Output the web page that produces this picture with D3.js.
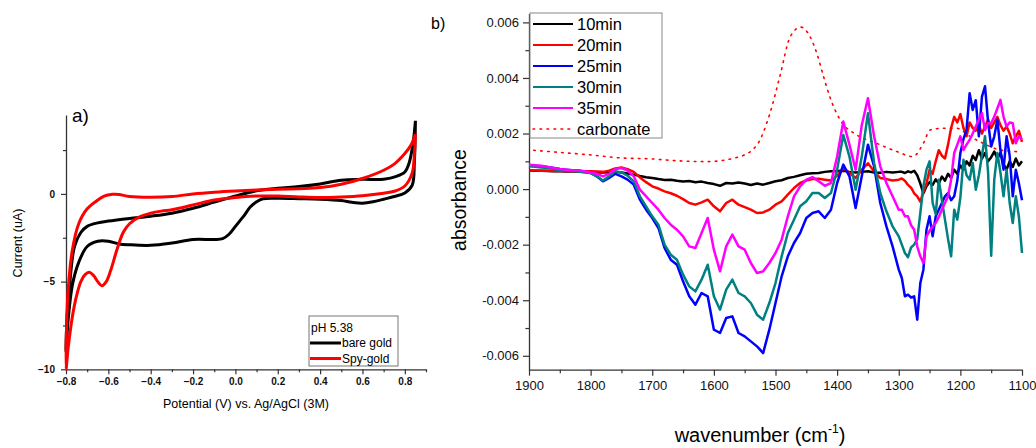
<!DOCTYPE html>
<html>
<head>
<meta charset="utf-8">
<script src="https://cdn.jsdelivr.net/npm/d3@7"></script>
<style>
  body { margin: 0; background: #fff; }
  svg { font-family: "Liberation Sans", Arial, sans-serif; }
</style>
</head>
<body>
<svg id="chart" width="1036" height="448"></svg>
<script>
// ---------- panel a) cyclic voltammograms (loop: cathodic sweep then anodic sweep) ----------
var cvNames = ["bare gold", "Spy-gold"];
var cvColors = ["#000000", "#ff0000"];

var bareGoldE = [0.85, 0.845, 0.835, 0.80, 0.75, 0.70, 0.65, 0.60, 0.55, 0.50, 0.40, 0.30, 0.20, 0.13, 0.10, 0.07, 0.04, 0.02, 0.00, -0.03, -0.06, -0.10, -0.20, -0.30, -0.40, -0.50, -0.55, -0.60, -0.65, -0.70, -0.74, -0.77, -0.79, -0.80,
  -0.795, -0.78, -0.76, -0.73, -0.70, -0.65, -0.60, -0.50, -0.40, -0.30, -0.20, -0.10, 0.00, 0.10, 0.20, 0.30, 0.40, 0.50, 0.60, 0.70, 0.76, 0.80, 0.82, 0.84, 0.85];
var bareGoldI = [4.17, 1.8, 0.5, 0.05, -0.15, -0.30, -0.45, -0.53, -0.48, -0.38, -0.30, -0.27, -0.25, -0.28, -0.45, -0.75, -1.25, -1.55, -1.85, -2.3, -2.55, -2.6, -2.6, -2.8, -2.93, -2.9, -2.85, -2.7, -2.7, -3.0, -3.9, -5.2, -7.2, -9.0,
  -7.0, -4.8, -3.0, -2.2, -1.85, -1.65, -1.55, -1.4, -1.27, -1.1, -0.82, -0.47, -0.12, 0.18, 0.32, 0.42, 0.57, 0.78, 0.83, 0.84, 1.0, 1.25, 1.75, 3.0, 4.17];

var spyGoldE = [0.85, 0.845, 0.835, 0.80, 0.75, 0.70, 0.60, 0.50, 0.40, 0.30, 0.20, 0.10, 0.00, -0.10, -0.20, -0.30, -0.35, -0.40, -0.45, -0.50, -0.53, -0.56, -0.59, -0.61, -0.63, -0.65, -0.67, -0.69, -0.71, -0.73, -0.75, -0.77, -0.79, -0.80,
  -0.797, -0.79, -0.77, -0.74, -0.70, -0.65, -0.62, -0.58, -0.55, -0.50, -0.40, -0.30, -0.20, -0.10, 0.00, 0.10, 0.20, 0.30, 0.40, 0.50, 0.60, 0.70, 0.75, 0.80, 0.83, 0.85];
var spyGoldI = [3.4, 2.2, 1.2, 0.45, 0.15, 0.04, -0.1, -0.17, -0.2, -0.17, -0.12, -0.12, -0.2, -0.35, -0.63, -0.9, -0.98, -1.1, -1.3, -1.7, -2.2, -3.2, -4.4, -5.0, -5.23, -5.0, -4.65, -4.47, -4.6, -5.0, -5.8, -7.0, -8.8, -10.0,
  -7.5, -5.5, -3.2, -1.7, -0.85, -0.35, -0.12, -0.02, -0.03, -0.15, -0.19, -0.15, 0.0, 0.1, 0.17, 0.22, 0.26, 0.3, 0.36, 0.55, 0.88, 1.35, 1.7, 2.3, 2.8, 3.4];

var cvXTicks = [-0.8, -0.6, -0.4, -0.2, 0.0, 0.2, 0.4, 0.6, 0.8];
var cvXMinor = [-0.7, -0.5, -0.3, -0.1, 0.1, 0.3, 0.5, 0.7, 0.9];
var cvYTicks = [-10, -5, 0];
var cvYMinor = [-7.5, -2.5, 2.5];

// ---------- panel b) IR difference spectra, absorbance x 1000 ----------
var irWavenumber = [
  1900, 1890, 1880, 1870, 1860, 1850, 1840, 1830, 1820, 1810,
  1800, 1790, 1780, 1770, 1760, 1750, 1740, 1730, 1720, 1710,
  1700, 1690, 1680, 1670, 1660, 1650, 1640, 1630, 1620, 1610,
  1600, 1590, 1580, 1570, 1560, 1550, 1540, 1530, 1520, 1510,
  1500, 1490, 1480, 1470, 1460, 1450, 1440, 1430, 1420, 1410,
  1400, 1390, 1380, 1370, 1360, 1350, 1340, 1330, 1320, 1310,
  1300, 1295, 1290, 1285, 1280, 1275, 1270, 1265, 1260, 1255,
  1250, 1245, 1240, 1235, 1230, 1225, 1220, 1215, 1210, 1205,
  1200, 1195, 1190, 1185, 1180, 1175, 1170, 1165, 1160, 1155,
  1150, 1145, 1140, 1135, 1130, 1125, 1120, 1115, 1110, 1105,
  1100];

var ir10min = [
  0.67, 0.66, 0.66, 0.65, 0.64, 0.64, 0.63, 0.63, 0.62, 0.62,
  0.61, 0.60, 0.60, 0.61, 0.62, 0.60, 0.56, 0.52, 0.47, 0.43,
  0.40, 0.36, 0.33, 0.34, 0.30, 0.27, 0.29, 0.25, 0.27, 0.22,
  0.18, 0.12, 0.22, 0.20, 0.24, 0.20, 0.15, 0.20, 0.16, 0.22,
  0.28, 0.32, 0.40, 0.44, 0.50, 0.55, 0.57, 0.58, 0.62, 0.64,
  0.65, 0.66, 0.62, 0.60, 0.62, 0.64, 0.60, 0.59, 0.62, 0.60,
  0.62, 0.62, 0.58, 0.64, 0.60, 0.66, 0.50, 0.20, -0.15, 0.10,
  0.25, 0.15, 0.35, 0.20, 0.45, 0.30, 0.55, 0.40, 0.70, 0.55,
  0.85, 0.70, 1.00, 0.85, 1.20, 1.05, 1.40, 1.10, 1.30, 1.00,
  1.15, 1.35, 1.10, 1.30, 0.90, 0.70, 1.00, 0.80, 1.10, 0.85,
  1.00];

var ir20min = [
  0.67, 0.67, 0.66, 0.66, 0.65, 0.65, 0.65, 0.64, 0.64, 0.64,
  0.64, 0.63, 0.62, 0.66, 0.74, 0.78, 0.72, 0.62, 0.42, 0.25,
  0.10, 0.02, -0.08, -0.15, -0.24, -0.36, -0.50, -0.56, -0.48, -0.38,
  -0.62, -0.80, -0.50, -0.38, -0.56, -0.65, -0.74, -0.86, -0.84, -0.74,
  -0.56, -0.44, -0.20, 0.04, 0.22, 0.31, 0.36, 0.37, 0.34, 0.31,
  0.48, 0.76, 0.58, 0.40, 0.70, 0.93, 0.64, 0.40, 0.36, 0.31,
  0.34, 0.38, 0.30, 0.15, 0.05, -0.15, -0.26, -0.45, -0.10, 0.20,
  0.70, 0.55, 1.00, 1.40, 1.20, 1.10, 1.60, 2.20, 2.60, 2.40,
  2.70, 2.20, 1.90, 2.40, 2.20, 2.10, 2.30, 2.00, 2.25, 2.50,
  2.20, 2.40, 2.60, 2.30, 2.10, 2.25, 2.00, 1.65, 1.90, 2.10,
  1.70];

var ir25min = [
  0.84, 0.83, 0.82, 0.80, 0.76, 0.72, 0.70, 0.68, 0.67, 0.63,
  0.58, 0.46, 0.28, 0.40, 0.55, 0.46, 0.34, 0.16, -0.38, -0.74,
  -1.04, -1.40, -2.12, -2.54, -2.72, -3.32, -3.86, -4.16, -3.74, -3.86,
  -5.06, -5.18, -4.64, -4.58, -5.18, -5.30, -5.48, -5.66, -5.90, -5.06,
  -4.10, -3.14, -2.42, -1.94, -1.58, -1.04, -0.86, -0.80, -1.04, -0.74,
  0.22, 0.88, 0.46, -0.68, 0.46, 1.60, 0.82, -0.50, -1.34, -2.06,
  -2.90, -3.20, -3.86, -3.80, -3.90, -3.86, -4.70, -3.38, -2.90, -1.46,
  -0.98, -1.70, -0.98, -0.74, -0.50, -0.26, -0.14, -0.40, -0.26, 0.30,
  1.30, 1.80, 2.13, 3.45, 2.85, 3.20, 1.90, 3.33, 3.70, 2.40,
  1.53, 1.90, 2.50, 1.40, 0.70, 1.90, 1.20, -0.26, 0.70, 0.20,
  -0.40];

var ir30min = [
  0.82, 0.80, 0.78, 0.76, 0.72, 0.67, 0.66, 0.65, 0.63, 0.60,
  0.58, 0.46, 0.31, 0.46, 0.64, 0.60, 0.48, 0.28, -0.26, -0.62,
  -0.98, -1.28, -2.00, -2.36, -2.54, -3.08, -3.50, -3.68, -3.26, -2.72,
  -3.86, -4.34, -3.62, -3.26, -3.74, -3.86, -4.10, -4.52, -4.70, -4.10,
  -3.38, -2.42, -1.58, -1.10, -0.62, -0.44, -0.14, -0.14, -0.32, -0.14,
  0.70, 1.95, 1.17, -0.02, 1.17, 2.73, 0.94, -0.14, -0.80, -1.34,
  -1.70, -2.00, -2.30, -2.45, -2.10, -2.00, -1.80, -0.86, 0.10, 0.70,
  1.00, -0.50, -0.90, 0.34, -0.40, -1.10, -1.80, -2.42, -0.74, -1.10,
  -0.30, 1.06, 0.50, 0.34, 0.94, -0.02, 0.50, 1.20, 1.90, 0.60,
  -2.40, 0.34, 1.30, 0.60, -0.26, 0.70, -0.50, -1.22, -0.26, -1.00,
  -2.30];

var ir35min = [
  0.88, 0.86, 0.84, 0.80, 0.76, 0.72, 0.70, 0.68, 0.67, 0.64,
  0.60, 0.55, 0.46, 0.55, 0.72, 0.76, 0.67, 0.46, -0.02, -0.26,
  -0.50, -0.74, -1.04, -1.28, -1.46, -1.70, -2.06, -2.12, -1.58, -1.04,
  -2.18, -2.96, -2.06, -1.64, -2.06, -2.18, -2.66, -3.02, -2.96, -2.66,
  -2.30, -1.82, -0.98, -0.26, 0.10, 0.34, 0.43, 0.28, 0.12, 0.22,
  1.17, 2.43, 1.60, 0.70, 2.30, 3.27, 1.90, 0.82, 0.22, -0.26,
  -0.74, -0.74, -0.98, -0.98, -1.30, -1.46, -2.06, -2.42, -2.66, -1.70,
  -1.50, -1.34, -1.22, -1.00, -0.74, -0.50, -0.26, 0.34, 1.30, 1.60,
  1.90, 1.41, 1.60, 1.77, 2.00, 2.25, 2.50, 2.73, 2.13, 2.37,
  2.37, 2.61, 2.90, 3.21, 2.61, 2.25, 2.40, 2.37, 1.65, 1.90,
  1.80];

var carbonateWn = [1900, 1850, 1800, 1750, 1704, 1660, 1612, 1558, 1530, 1509, 1493, 1476, 1459, 1444, 1433, 1422, 1412, 1395, 1368, 1336, 1303, 1277, 1260, 1249, 1228, 1206, 1184, 1163, 1136, 1109];
var carbonateAbs = [1.41, 1.32, 1.23, 1.12, 1.09, 1.02, 0.99, 1.17, 1.59, 2.73, 4.05, 5.49, 5.83, 5.49, 4.89, 4.05, 3.33, 2.49, 1.95, 1.65, 1.35, 1.17, 1.65, 2.13, 2.19, 2.19, 1.89, 1.65, 1.41, 1.35];

var irNames = ["10min", "20min", "25min", "30min", "35min", "carbonate"];
var irColors = ["#000000", "#ff0000", "#0000ff", "#008080", "#ff00ff", "#ff0000"];

var irXTicks = [1900, 1800, 1700, 1600, 1500, 1400, 1300, 1200, 1100];
var irXMinor = [1850, 1750, 1650, 1550, 1450, 1350, 1250, 1150];
var irYTicks = [-6, -4, -2, 0, 2, 4, 6];
var irYMinor = [-5, -3, -1, 1, 3, 5];

var svg = d3.select("#chart");
var axisColor = "#333";

// helper: major + minor ticks on one axis
function drawAxis(g, axisFn, scale, major, minor, fmt, size, fontSize, pad) {
  var main = axisFn(scale).tickValues(major).tickSize(size).tickSizeOuter(0)
    .tickPadding(pad).tickFormat(fmt);
  g.call(main);
  var mg = g.append("g").call(axisFn(scale).tickValues(minor).tickSize(size * 0.6).tickFormat(""));
  mg.select(".domain").remove();
  g.selectAll("line").attr("stroke", axisColor).attr("stroke-width", 1.2);
  g.selectAll(".domain").attr("stroke", axisColor).attr("stroke-width", 1.3);
  g.selectAll("text").attr("font-size", fontSize).attr("fill", "#111")
    .attr("font-family", "'Liberation Sans', Arial, sans-serif");
}

// ================= panel a =================
var cvX = d3.scaleLinear().domain([-0.8, 0.9]).range([66, 426]);
var cvY = d3.scaleLinear().domain([-10, 4.5]).range([369.3, 115]);

drawAxis(svg.append("g").attr("transform", "translate(0,369.3)"), d3.axisBottom, cvX,
  cvXTicks, cvXMinor, d3.format(".1f"), 5, 10, 4);
drawAxis(svg.append("g").attr("transform", "translate(66,0)"), d3.axisLeft, cvY,
  cvYTicks, cvYMinor, d3.format("d"), 5, 10, 6);
svg.selectAll("text").attr("font-weight", "bold");

var cvLine = d3.line()
  .x(function (d) { return cvX(d[0]); })
  .y(function (d) { return cvY(d[1]); })
  .curve(d3.curveCatmullRom.alpha(0.5));

var cvData = [d3.zip(bareGoldE, bareGoldI), d3.zip(spyGoldE, spyGoldI)];
cvData.forEach(function (pts, i) {
  svg.append("path").attr("d", cvLine(pts)).attr("fill", "none")
    .attr("stroke", cvColors[i]).attr("stroke-width", 3).attr("stroke-linejoin", "round");
});

// legend a
var legA = svg.append("g");
legA.append("rect").attr("x", 309).attr("y", 316).attr("width", 89).attr("height", 50)
  .attr("fill", "#fff").attr("stroke", "#777").attr("stroke-width", 1);
legA.append("text").attr("x", 311).attr("y", 332).attr("font-size", 12).text("pH 5.38");
cvNames.forEach(function (n, i) {
  var yy = 343 + i * 15.5;
  legA.append("line").attr("x1", 310).attr("x2", 341).attr("y1", yy).attr("y2", yy)
    .attr("stroke", cvColors[i]).attr("stroke-width", 3);
  legA.append("text").attr("x", 342).attr("y", yy).attr("dy", "0.35em")
    .attr("font-size", 12).text(n);
});

svg.append("text").attr("x", 72).attr("y", 122).attr("font-size", 19).text("a)");
svg.append("text").attr("transform", "translate(22,243) rotate(-90)")
  .attr("text-anchor", "middle").attr("font-size", 12.5).text("Current (uA)");
svg.append("text").attr("x", 246).attr("y", 408).attr("text-anchor", "middle")
  .attr("font-size", 12.5).text("Potential (V) vs. Ag/AgCl (3M)");

// ================= panel b =================
var irX = d3.scaleLinear().domain([1900, 1100]).range([529, 1022]);
var irY = d3.scaleLinear().domain([-6.5, 6.32]).range([369.7, 13.5]);

drawAxis(svg.append("g").attr("transform", "translate(0,369.7)"), d3.axisBottom, irX,
  irXTicks, irXMinor, d3.format("d"), 6, 13, 5);
drawAxis(svg.append("g").attr("transform", "translate(529,0)"), d3.axisLeft, irY,
  irYTicks, irYMinor, function (d) { return (d / 1000).toFixed(3); }, 6, 13, 4);

var irLine = d3.line()
  .x(function (d) { return irX(d[0]); })
  .y(function (d) { return irY(d[1]); });

var carbLine = d3.line()
  .x(function (d) { return irX(d[0]); })
  .y(function (d) { return irY(d[1]); })
  .curve(d3.curveMonotoneX);

svg.append("path").attr("d", carbLine(d3.zip(carbonateWn, carbonateAbs).reverse()))
  .attr("fill", "none").attr("stroke", irColors[5]).attr("stroke-width", 1.6)
  .attr("stroke-dasharray", "1.6,5.4").attr("stroke-linecap", "round");

var irSeries = [ir10min, ir20min, ir25min, ir30min, ir35min];
irSeries.forEach(function (vals, i) {
  if (vals.length !== irWavenumber.length) console.error("length mismatch", irNames[i], vals.length);
  svg.append("path").attr("d", irLine(d3.zip(irWavenumber, vals))).attr("fill", "none")
    .attr("stroke", irColors[i]).attr("stroke-width", 2.5).attr("stroke-linejoin", "round");
});

// legend b
var legB = svg.append("g");
legB.append("rect").attr("x", 530).attr("y", 13).attr("width", 132).attr("height", 125)
  .attr("fill", "#fff").attr("stroke", "#888").attr("stroke-width", 1);
irNames.forEach(function (n, i) {
  var yy = 24 + i * 21;
  var ln = legB.append("line").attr("x1", 533).attr("x2", 573).attr("y1", yy).attr("y2", yy)
    .attr("stroke", irColors[i]).attr("stroke-width", 2);
  if (n === "carbonate") ln.attr("stroke-width", 1.6).attr("stroke-dasharray", "1.6,5.4").attr("stroke-linecap", "round");
  legB.append("text").attr("x", 577).attr("y", yy).attr("dy", "0.36em")
    .attr("font-size", 16.5).text(n);
});

svg.append("text").attr("x", 431).attr("y", 29).attr("font-size", 16).text("b)");
svg.append("text").attr("transform", "translate(466,200) rotate(-90)")
  .attr("text-anchor", "middle").attr("font-size", 19.5).text("absorbance");
var xt = svg.append("text").attr("x", 760).attr("y", 442).attr("text-anchor", "middle")
  .attr("font-size", 20);
xt.append("tspan").text("wavenumber (cm");
xt.append("tspan").attr("font-size", 12).attr("dy", -9).text("-1");
xt.append("tspan").attr("dy", 9).text(")");
</script>
</body>
</html>
